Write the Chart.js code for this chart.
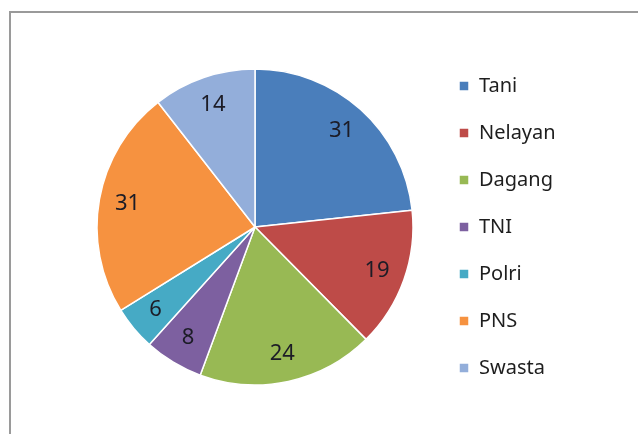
<!DOCTYPE html>
<html>
<head>
<meta charset="utf-8">
<script src="https://cdn.jsdelivr.net/npm/chart.js@4.4.0/dist/chart.umd.min.js"></script>
<style>
  html, body { margin: 0; padding: 0; background: #fff; }
  #wrap { position: relative; width: 638px; height: 434px; overflow: hidden; }
  #frame { position: absolute; left: 9px; top: 11px; right: -5px; bottom: -5px;
           border-left: 2px solid #9a9a9a; border-top: 2px solid #9a9a9a; }
  canvas { position: absolute; left: 0; top: 0; }
</style>
</head>
<body>
<div id="wrap">
  <div id="frame"></div>
  <canvas id="pieCanvas" width="638" height="434"></canvas>
</div>
<script>
var categories = ["Tani", "Nelayan", "Dagang", "TNI", "Polri", "PNS", "Swasta"];
var values = [31, 19, 24, 8, 6, 31, 14];
var colors = ["#4A7EBB", "#BE4B48", "#98B954", "#7D60A0", "#46AAC5", "#F69240", "#93AEDA"];

var FONT = "'Noto Sans', 'Open Sans', sans-serif";
var LEGEND_SIZE = 20;
var LEGEND_PAD = 27;
var PIE_RADIUS = 158;
var CENTER_X = 255;
var BOX_X = 459;

const canvas = document.getElementById("pieCanvas");
const ctx = canvas.getContext("2d");

// legend width depends on the text, measure it so the pie lands where it should
ctx.font = LEGEND_SIZE + "px " + FONT;
var maxText = 0;
categories.forEach(c => { maxText = Math.max(maxText, ctx.measureText(c).width); });
var legendLeft = BOX_X - LEGEND_PAD;
var legendWidth = LEGEND_PAD + 10 + LEGEND_SIZE / 2 + maxText + 10;
var padLeft = 2 * CENTER_X - legendLeft;
var padRight = canvas.width - legendLeft - legendWidth;

const sliceLabels = {
  id: "sliceLabels",
  afterDatasetsDraw(chart) {
    const c = chart.ctx;
    const meta = chart.getDatasetMeta(0);
    c.save();
    c.font = "22px " + FONT;
    c.fillStyle = "#1c1c26";
    c.textAlign = "center";
    c.textBaseline = "middle";
    meta.data.forEach((arc, i) => {
      const p = arc.getProps(["x", "y", "startAngle", "endAngle", "outerRadius"], true);
      const mid = (p.startAngle + p.endAngle) / 2;
      const r = p.outerRadius * 0.82;
      c.fillText(values[i], p.x + Math.cos(mid) * r, p.y + Math.sin(mid) * r);
    });
    c.restore();
  }
};

new Chart(ctx, {
  type: "pie",
  data: {
    labels: categories,
    datasets: [{
      data: values,
      backgroundColor: colors,
      borderColor: "#ffffff",
      borderWidth: 1.5,
      hoverOffset: 0,
      radius: PIE_RADIUS
    }]
  },
  options: {
    responsive: false,
    animation: false,
    events: [],
    layout: {
      padding: { left: padLeft, right: padRight, top: 20, bottom: 0 }
    },
    plugins: {
      tooltip: { enabled: false },
      legend: {
        position: "right",
        labels: {
          boxWidth: 10,
          boxHeight: 10,
          padding: LEGEND_PAD,
          color: "#1e1e1e",
          font: { family: FONT, size: LEGEND_SIZE }
        }
      }
    }
  },
  plugins: [sliceLabels]
});
</script>
</body>
</html>
